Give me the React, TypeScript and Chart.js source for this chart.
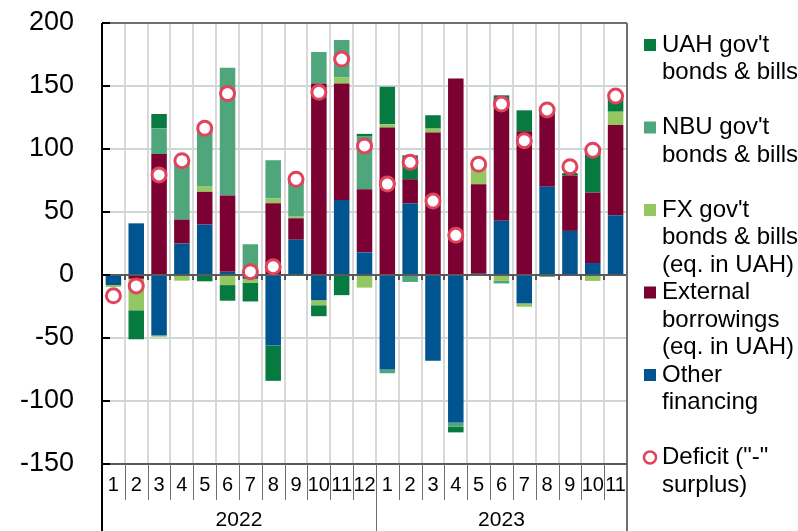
import React, { useEffect, useRef } from 'react';
import Chart from 'chart.js/auto';

// ---- data ----
const MONTHS = ['1','2','3','4','5','6','7','8','9','10','11','12','1','2','3','4','5','6','7','8','9','10','11'];
const YEARS = ['2022', '2023'];
const YEAR_COUNTS = [12, 11];

const Y_MIN = -150;
const Y_MAX = 200;
const Y_STEP = 50;

const OTHER =    [-8, 41, -48, 25, 40, 2.5, -3, -56, 28, -20, 59.5, 18, -75, 57, -68, -117, 1, 43, -22.5, 70, 35, 9.5, 47.5];
const EXTERNAL = [0, -3, 96, 19, 26, 60.5, 0, 57, 17, 152, 92.5, 50, 117, 19, 113, 156, 71, 97, 114, 60, 44, 56, 71.5];
const FX =       [-1.5, -25, -1, -4.5, 4.6, -8, -3, 3.7, 1.3, -4, 5, -10, 2.6, 0, 3.2, 0, 16, -4.7, -2.7, 0, 0, -4.7, 10.6];
const NBU =      [0, 0, 20.4, 47.5, 44.5, 101.5, 24.4, 30.4, 28, 25, 29.5, 41.8, -3, -5.5, 0, -3.4, 0, -2, 0, -1.5, 0, 0, 0];
const UAH =      [0, -23, 11.4, 0, -5, -12.4, -15, -28, 0, -8.7, -16, 2.2, 29.8, 19, 10.6, -4.5, 0, 2.6, 16.7, 0, 1.9, 36.3, 10.4];
const DEFICIT =  [-16.5, -8.7, 79.4, 90.7, 116.4, 144, 2.6, 6.6, 76, 145, 171.4, 102.4, 72.2, 89.4, 58.7, 31.5, 87.9, 135.7, 106.6, 131, 86, 99, 142];

const LABEL_UAH = "UAH gov't\nbonds & bills";
const LABEL_NBU = "NBU gov't\nbonds & bills";
const LABEL_FX = "FX gov't\nbonds & bills\n(eq. in UAH)";
const LABEL_EXT = 'External\nborrowings\n(eq. in UAH)';
const LABEL_OTHER = 'Other\nfinancing';
const LABEL_DEF = 'Deficit ("-"\nsurplus)';

const C_UAH = '#077b3f';
const C_NBU = '#4fa67b';
const C_FX = '#93c762';
const C_EXT = '#7a0131';
const C_OTHER = '#00548f';
const C_DEF = '#e1435c';

const FONT = "'Liberation Sans', Arial, sans-serif";

const decor = {
  id: 'decor',
  beforeDatasetDraw(chart: any, args: any) {
    if (args.meta.type !== 'line') return;
    const { ctx, chartArea } = chart;
    const ys = chart.scales.y;
    const xs = chart.scales.x;
    const y0 = ys.getPixelForValue(0);
    const n = chart.data.labels.length;
    const w = (chartArea.right - chartArea.left) / n;
    ctx.save();
    ctx.strokeStyle = '#595959';
    ctx.lineWidth = 2;
    ctx.beginPath();
    ctx.moveTo(chartArea.left, y0);
    ctx.lineTo(chartArea.right, y0);
    ctx.stroke();
    ctx.beginPath();
    for (let i = 1; i < n; i++) {
      const x = Math.round(xs.getPixelForValue(i) - w / 2);
      ctx.moveTo(x, y0);
      ctx.lineTo(x, y0 + 5);
    }
    ctx.stroke();
    ctx.restore();
  },
  afterDraw(chart: any) {
    const { ctx, chartArea } = chart;
    const { left, right, top, bottom } = chartArea;
    const ys = chart.scales.y;
    const xs = chart.scales.x;
    const n = chart.data.labels.length;
    const w = (right - left) / n;
    const H = chart.height;
    ctx.save();
    // top & right border
    ctx.strokeStyle = '#6f6f6f';
    ctx.lineWidth = 2;
    ctx.beginPath();
    ctx.moveTo(left, top);
    ctx.lineTo(right, top);
    ctx.moveTo(right, top);
    ctx.lineTo(right, H);
    ctx.stroke();
    // bottom axis line
    ctx.strokeStyle = '#595959';
    ctx.beginPath();
    ctx.moveTo(left, bottom);
    ctx.lineTo(right, bottom);
    ctx.stroke();
    // month separators
    ctx.lineWidth = 1;
    ctx.strokeStyle = '#6f6f6f';
    ctx.beginPath();
    for (let i = 1; i < n; i++) {
      const x = Math.round(xs.getPixelForValue(i) - w / 2) + 0.5;
      ctx.moveTo(x, bottom);
      ctx.lineTo(x, bottom + 36);
    }
    ctx.stroke();
    // year separators and labels
    let start = 0;
    ctx.fillStyle = '#000';
    ctx.font = `21px ${FONT}`;
    ctx.textAlign = 'center';
    ctx.textBaseline = 'middle';
    YEARS.forEach((yr, k) => {
      const end = start + YEAR_COUNTS[k];
      const x0 = xs.getPixelForValue(start) - w / 2;
      const x1 = xs.getPixelForValue(end - 1) + w / 2;
      if (k > 0) {
        ctx.beginPath();
        ctx.moveTo(Math.round(x0) + 0.5, bottom);
        ctx.lineTo(Math.round(x0) + 0.5, H);
        ctx.stroke();
      }
      ctx.fillText(yr, (x0 + x1) / 2, 520);
      start = end;
    });
    // left axis
    ctx.strokeStyle = '#000';
    ctx.lineWidth = 2;
    ctx.beginPath();
    ctx.moveTo(left, top);
    ctx.lineTo(left, H);
    ctx.stroke();
    // inner y ticks
    ctx.beginPath();
    for (let v = Y_MIN; v <= Y_MAX; v += Y_STEP) {
      const y = ys.getPixelForValue(v);
      ctx.moveTo(left, y);
      ctx.lineTo(left + 8, y);
    }
    ctx.stroke();

    // legend
    const ds = chart.data.datasets;
    const order = [4, 3, 2, 1, 0, 5];
    ctx.font = `24px ${FONT}`;
    ctx.textAlign = 'left';
    ctx.textBaseline = 'middle';
    order.forEach((di, k) => {
      const d = ds[di];
      const yc = 45 + k * 82.5;
      if (d.type === 'line') {
        ctx.beginPath();
        ctx.arc(650, yc, 6, 0, Math.PI * 2);
        ctx.fillStyle = '#fff';
        ctx.fill();
        ctx.lineWidth = 2.5;
        ctx.strokeStyle = d.borderColor;
        ctx.stroke();
      } else {
        ctx.fillStyle = d.backgroundColor;
        ctx.fillRect(644, yc - 6, 12, 12);
      }
      ctx.fillStyle = '#000';
      String(d.label).split('\n').forEach((line, li) => {
        ctx.fillText(line, 662, yc + li * 27.5);
      });
    });
    ctx.restore();
  },
};

export default function App() {
  const ref = useRef<HTMLCanvasElement>(null);
  useEffect(() => {
    if (!ref.current) return;
    const barCommon = { stack: 's', barPercentage: 0.68, categoryPercentage: 1, borderWidth: 0, order: 1 };
    const chart = new Chart(ref.current, {
      data: {
        labels: MONTHS,
        datasets: [
          { type: 'bar', label: LABEL_OTHER, data: OTHER, backgroundColor: C_OTHER, ...barCommon },
          { type: 'bar', label: LABEL_EXT, data: EXTERNAL, backgroundColor: C_EXT, ...barCommon },
          { type: 'bar', label: LABEL_FX, data: FX, backgroundColor: C_FX, ...barCommon },
          { type: 'bar', label: LABEL_NBU, data: NBU, backgroundColor: C_NBU, ...barCommon },
          { type: 'bar', label: LABEL_UAH, data: UAH, backgroundColor: C_UAH, ...barCommon },
          {
            type: 'line', label: LABEL_DEF, data: DEFICIT, stack: 'deficit', order: 0,
            showLine: false, pointStyle: 'circle', pointRadius: 7, pointHoverRadius: 7,
            pointBackgroundColor: '#ffffff', pointBorderColor: C_DEF, pointBorderWidth: 3,
            borderColor: C_DEF, backgroundColor: '#ffffff',
          },
        ] as any,
      },
      options: {
        animation: false,
        responsive: true,
        maintainAspectRatio: false,
        layout: { autoPadding: false, padding: { top: 23, right: 171, left: 0, bottom: 0 } },
        plugins: { legend: { display: false }, tooltip: { enabled: false } },
        scales: {
          x: {
            stacked: true,
            offset: true,
            grid: { offset: true, color: '#d9d9d9', lineWidth: 2, drawTicks: false },
            border: { display: false },
            ticks: { color: '#000', font: { family: FONT, size: 20 }, padding: 9, maxRotation: 0, autoSkip: false },
            afterFit: (s: any) => { s.height = 67; s.paddingLeft = 0; s.paddingRight = 0; },
          },
          y: {
            stacked: true,
            min: Y_MIN,
            max: Y_MAX,
            grid: {
              color: (c: any) => (c.tick && c.tick.value === 0 ? 'rgba(0,0,0,0)' : '#cfd6d6'),
              lineWidth: 2,
              drawTicks: false,
            },
            border: { display: false },
            ticks: { stepSize: Y_STEP, color: '#000', font: { family: FONT, size: 27 }, padding: 28 },
            afterFit: (s: any) => { s.width = 102; s.paddingTop = 0; s.paddingBottom = 0; },
          },
        },
      } as any,
      plugins: [decor],
    } as any);
    return () => chart.destroy();
  }, []);
  return (
    <div style={{ position: 'absolute', left: 0, top: 0, width: 798, height: 531 }}>
      <canvas ref={ref} />
    </div>
  );
}
